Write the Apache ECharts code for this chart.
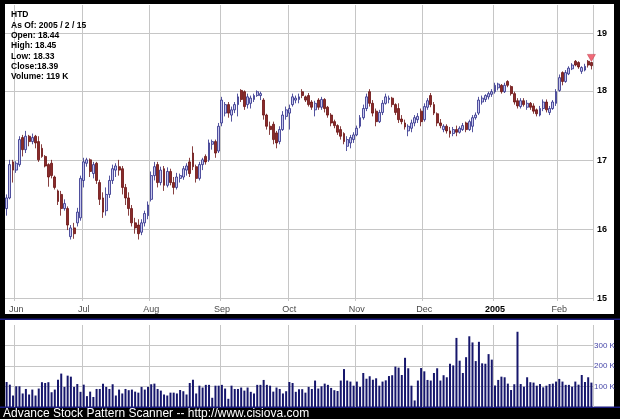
<!DOCTYPE html>
<html>
<head>
<meta charset="utf-8">
<script src="https://cdn.jsdelivr.net/npm/echarts@6/dist/echarts.min.js"></script>
<style>html,body{margin:0;padding:0;background:#000;}#c{width:620px;height:419px;}</style>
</head>
<body>
<div id="c"></div>
<script>
// ---- data ----
const firstDay = '2004-05-26';
const lastDay = '2005-02-15';
const holidays = ['2004-05-31','2004-06-11','2004-07-05','2004-09-06','2004-11-25','2004-12-24','2005-01-17'];
const monthNames = ['Jan','Feb','Mar','Apr','May','Jun','Jul','Aug','Sep','Oct','Nov','Dec'];
const priceTicks = [15,16,17,18,19];
const volumeTicks = [100,200,300];
const infoLines = ['HTD','As Of: 2005 / 2 / 15','Open: 18.44','High: 18.45','Low: 18.33','Close:18.39','Volume: 119 K'];
const footer = 'Advance Stock Pattern Scanner -- http://www.cisiova.com';

const open = [
16.25,16.40,16.92,16.80,16.88,17.28,17.10,17.30,17.22,17.30,
17.22,17.12,17.00,16.88,16.90,16.70,16.50,16.45,16.25,16.25,
15.86,15.98,16.05,16.12,16.65,16.90,16.95,16.75,16.90,16.62,
16.40,16.22,16.45,16.65,16.80,16.85,16.82,16.55,16.40,16.25,
16.05,16.02,15.92,16.05,16.15,16.38,16.72,16.88,16.62,16.82,
16.58,16.78,16.62,16.55,16.68,16.70,16.80,16.92,17.05,16.85,
16.68,16.88,17.00,16.95,17.18,17.22,17.08,17.50,17.65,17.78,
17.62,17.70,17.78,18.00,17.98,17.78,17.80,17.86,17.92,17.92,
17.85,17.62,17.45,17.48,17.35,17.22,17.40,17.60,17.65,17.78,
17.85,17.86,17.98,17.90,17.92,17.82,17.70,17.85,17.74,17.86,
17.74,17.62,17.52,17.46,17.40,17.34,17.15,17.20,17.25,17.32,
17.45,17.58,17.72,17.98,17.80,17.68,17.52,17.66,17.80,17.86,
17.88,17.78,17.72,17.56,17.50,17.38,17.42,17.50,17.55,17.68,
17.55,17.74,17.92,17.78,17.64,17.50,17.40,17.45,17.38,17.34,
17.40,17.36,17.40,17.50,17.40,17.45,17.58,17.65,17.82,17.86,
17.90,17.94,17.98,18.04,18.08,17.98,18.14,18.06,17.95,17.84,
17.75,17.84,17.74,17.80,17.76,17.70,17.62,17.72,17.82,17.66,
17.72,17.80,18.00,18.28,18.14,18.26,18.34,18.46,18.44,18.30,
18.32,18.46,18.44];
const high = [
16.45,16.95,16.95,16.93,17.30,17.32,17.38,17.32,17.34,17.32,
17.30,17.18,17.02,16.90,16.95,16.72,16.52,16.50,16.38,16.28,
16.02,16.05,16.26,16.72,16.98,16.98,16.97,16.92,16.92,16.66,
16.48,16.55,16.72,16.88,16.90,16.95,16.86,16.60,16.48,16.30,
16.12,16.10,16.10,16.22,16.35,16.78,16.92,16.92,16.85,16.86,
16.84,16.82,16.70,16.76,16.75,16.86,16.90,16.98,17.15,16.88,
16.92,16.98,17.03,17.25,17.25,17.25,17.50,17.90,17.82,17.82,
17.75,17.82,17.95,18.02,18.00,17.95,17.92,17.95,18.00,17.98,
17.88,17.64,17.52,17.52,17.38,17.45,17.68,17.75,17.78,17.95,
17.92,17.95,18.02,17.92,17.96,17.85,17.84,17.88,17.90,17.88,
17.76,17.65,17.55,17.48,17.45,17.36,17.30,17.32,17.36,17.46,
17.62,17.78,17.95,18.02,17.85,17.72,17.70,17.85,17.95,17.92,
17.90,17.80,17.80,17.62,17.55,17.48,17.55,17.62,17.65,17.72,
17.80,17.88,17.96,17.82,17.66,17.56,17.48,17.48,17.44,17.44,
17.46,17.45,17.50,17.52,17.55,17.62,17.66,17.90,17.92,17.94,
17.98,18.02,18.12,18.12,18.10,18.12,18.16,18.08,17.98,17.88,
17.88,17.88,17.85,17.82,17.80,17.72,17.76,17.86,17.86,17.76,
17.85,18.02,18.25,18.30,18.32,18.38,18.43,18.48,18.46,18.38,
18.42,18.48,18.45];
const low = [
16.15,16.38,16.62,16.76,16.85,17.00,17.05,17.15,17.18,17.12,
16.92,16.98,16.84,16.56,16.68,16.52,16.30,16.15,16.22,15.95,
15.82,15.83,16.00,16.08,16.55,16.85,16.70,16.68,16.60,16.30,
16.12,16.15,16.40,16.60,16.70,16.72,16.45,16.30,16.15,16.00,
15.90,15.82,15.88,16.00,16.10,16.35,16.65,16.55,16.58,16.50,
16.55,16.58,16.45,16.52,16.62,16.66,16.72,16.70,16.80,16.62,
16.65,16.80,16.88,16.92,17.10,16.98,17.05,17.45,17.60,17.58,
17.52,17.65,17.60,17.82,17.70,17.72,17.72,17.82,17.90,17.85,
17.55,17.40,17.32,17.18,17.12,17.18,17.38,17.55,17.40,17.75,
17.80,17.80,17.88,17.82,17.75,17.70,17.60,17.70,17.70,17.66,
17.58,17.45,17.42,17.32,17.25,17.18,17.08,17.12,17.20,17.30,
17.42,17.55,17.68,17.75,17.60,17.45,17.50,17.62,17.78,17.80,
17.74,17.62,17.50,17.48,17.40,17.30,17.36,17.45,17.50,17.45,
17.52,17.70,17.74,17.62,17.45,17.42,17.36,17.34,17.28,17.30,
17.30,17.34,17.38,17.36,17.38,17.36,17.55,17.62,17.78,17.82,
17.86,17.90,17.95,18.00,17.95,17.96,18.05,17.92,17.78,17.72,
17.72,17.75,17.70,17.70,17.64,17.60,17.60,17.68,17.66,17.62,
17.70,17.76,17.98,18.08,18.12,18.24,18.32,18.38,18.34,18.26,
18.30,18.36,18.33];
const close = [
16.40,16.88,16.80,16.90,17.25,17.10,17.30,17.22,17.28,17.20,
16.95,17.00,16.86,16.70,16.72,16.55,16.35,16.25,16.32,16.02,
15.98,15.90,16.20,16.68,16.92,16.95,16.78,16.88,16.65,16.38,
16.20,16.45,16.65,16.82,16.86,16.80,16.55,16.40,16.25,16.05,
15.98,15.90,16.05,16.18,16.30,16.72,16.85,16.62,16.80,16.58,
16.78,16.62,16.55,16.70,16.72,16.82,16.86,16.75,16.85,16.68,
16.88,16.95,16.92,17.20,17.22,17.05,17.45,17.85,17.78,17.65,
17.70,17.78,17.90,17.86,17.75,17.90,17.88,17.92,17.98,17.95,
17.62,17.45,17.40,17.25,17.20,17.40,17.62,17.70,17.72,17.90,
17.88,17.90,17.92,17.85,17.78,17.74,17.80,17.74,17.86,17.72,
17.62,17.50,17.46,17.36,17.30,17.22,17.25,17.28,17.32,17.42,
17.58,17.72,17.90,17.80,17.65,17.52,17.66,17.80,17.90,17.88,
17.78,17.66,17.55,17.52,17.44,17.45,17.50,17.58,17.60,17.52,
17.75,17.84,17.78,17.65,17.50,17.46,17.45,17.38,17.34,17.40,
17.36,17.42,17.46,17.40,17.52,17.58,17.62,17.85,17.88,17.92,
17.95,17.98,18.08,18.10,17.98,18.08,18.08,17.95,17.82,17.76,
17.84,17.78,17.80,17.74,17.68,17.64,17.72,17.82,17.70,17.72,
17.82,17.98,18.20,18.14,18.28,18.35,18.40,18.40,18.37,18.36,
18.38,18.40,18.39];
// volume in thousands
const volume = [
122,109,56,101,101,66,88,61,85,56,
90,121,117,121,72,85,133,163,98,153,
148,98,112,74,109,53,75,49,88,88,
114,98,88,111,56,85,66,88,82,85,
75,70,98,85,98,111,114,88,80,61,
56,70,70,66,83,77,61,117,133,66,
104,95,108,108,45,104,104,108,90,40,
104,88,88,95,80,95,74,66,108,108,
132,108,104,75,95,88,66,77,122,117,
74,87,87,70,98,
88,129,90,101,114,108,93,82,78,129,
185,129,124,104,124,98,166,138,150,133,
140,104,124,130,151,155,197,192,156,240,
189,104,32,129,190,174,132,129,166,189,
129,155,145,211,203,337,226,166,243,345,
315,224,318,213,211,258,231,105,132,148,
145,114,83,111,367,112,99,145,121,119,
104,112,96,104,112,114,124,137,124,108,
108,99,124,109,156,122,145,119];

// ---- trading calendar ----
function pad(n){return n<10?'0'+n:''+n;}
const dates = [];
{
  let d = new Date(firstDay + 'T00:00:00Z');
  const end = new Date(lastDay + 'T00:00:00Z');
  while (d <= end) {
    const wd = d.getUTCDay();
    const s = d.getUTCFullYear() + '-' + pad(d.getUTCMonth()+1) + '-' + pad(d.getUTCDate());
    if (wd !== 0 && wd !== 6 && holidays.indexOf(s) < 0) dates.push(s);
    d = new Date(d.getTime() + 86400000);
  }
}
const monthStart = {};
for (let i = 0; i < dates.length; i++) {
  if (i > 0 && dates[i].slice(0,7) !== dates[i-1].slice(0,7)) monthStart[dates[i]] = true;
}
function isMonthStart(idx, val){ return !!monthStart[val]; }

const LN = Math.log;
const candleData = dates.map((d,i) => [LN(open[i]), LN(close[i]), LN(low[i]), LN(high[i])]);
const last = dates.length - 1;

const chart = echarts.init(document.getElementById('c'), null, {renderer:'canvas'});
const FONT = 'Arial, "Liberation Sans", sans-serif';
const gridColor = '#c6c6c6';

const option = {
  animation: false,
  backgroundColor: '#000000',
  graphic: [
    {type:'rect', z:-10, shape:{x:5,y:4,width:609,height:310}, style:{fill:'#ffffff'}},
    {type:'rect', z:-10, shape:{x:5,y:320,width:609,height:87}, style:{fill:'#ffffff'}},
    {type:'rect', z:-9, shape:{x:0,y:318.5,width:620,height:1.5}, style:{fill:'#1c1c80'}},
    {type:'rect', z:-9, shape:{x:0,y:406.5,width:620,height:1.5}, style:{fill:'#1c1c80'}},
    {type:'text', zlevel:2, style:{text: infoLines.join('\n'), x:11, y:9.8, fill:'#000', font:'bold 8.5px ' + FONT, lineHeight:10.35, verticalAlign:'top'}},
    {type:'text', zlevel:2, style:{text: footer, x:3, y:413.5, fill:'#fff', font:'12px ' + FONT, verticalAlign:'middle'}}
  ],
  grid: [
    {left:5, top:5, width:588, height:296},
    {left:5, top:325, width:588, height:82}
  ],
  xAxis: [
    {type:'category', gridIndex:0, data:dates, boundaryGap:true,
     axisLine:{show:false}, axisTick:{show:false},
     axisLabel:{interval:isMonthStart, margin:4, fontSize:9, color:'#4a4a4a', fontFamily:FONT,
       formatter:function(v){ const m = +v.slice(5,7); if (m===1) return '{b|' + v.slice(0,4) + '}'; return monthNames[m-1]; },
       rich:{b:{fontWeight:'bold', color:'#000', fontSize:9, fontFamily:FONT}}},
     splitLine:{show:true, interval:isMonthStart, lineStyle:{color:gridColor, width:1}}},
    {type:'category', gridIndex:1, data:dates, boundaryGap:true,
     axisLine:{show:false}, axisTick:{show:false}, axisLabel:{show:false},
     splitLine:{show:true, interval:isMonthStart, lineStyle:{color:gridColor, width:1}}}
  ],
  yAxis: [
    {type:'value', gridIndex:0, min:LN(15), max:LN(15)+0.25628, show:true,
     axisLine:{show:false}, axisTick:{show:false}, axisLabel:{show:false}, splitLine:{show:false}},
    {type:'value', gridIndex:1, min:0, max:400, show:true,
     axisLine:{show:false}, axisTick:{show:false}, axisLabel:{show:false}, splitLine:{show:false}}
  ],
  series: [
    {type:'line', xAxisIndex:0, yAxisIndex:0, data:dates.map(()=>null), silent:true, symbol:'none',
     markLine:{silent:true, symbol:'none', animation:false,
       lineStyle:{color:gridColor, width:1, type:'solid'},
       label:{show:true, position:'end', distance:4, formatter:p=>p.name, color:'#000', fontWeight:'bold', fontSize:9, fontFamily:FONT},
       data: priceTicks.map(p => ({yAxis: LN(p), name: String(p)}))}},
    {type:'line', xAxisIndex:1, yAxisIndex:1, data:dates.map(()=>null), silent:true, symbol:'none',
     markLine:{silent:true, symbol:'none', animation:false,
       lineStyle:{color:gridColor, width:1, type:'solid'},
       label:{show:true, position:'end', distance:1, formatter:p=>p.name, color:'#4646a8', fontSize:8, fontFamily:FONT, padding:[0,0,6,0]},
       data: volumeTicks.map(v => ({yAxis: v, name: v + ' K'}))}},
    {type:'candlestick', zlevel:1, xAxisIndex:0, yAxisIndex:0, data:candleData, barWidth:2.4,
     itemStyle:{color:'#c8c8ee', color0:'#8a2a2a', borderColor:'#2a2a86', borderColor0:'#6a1010', borderWidth:0.8},
     markPoint:{animation:false, label:{show:false},
       data:[{coord:[dates[last], LN(high[last])], symbol:'triangle', symbolRotate:180, symbolSize:[8,7], symbolOffset:[0,-4],
              itemStyle:{color:'#f06a78', borderColor:'#c03848', borderWidth:0.5}}]}},
    {type:'bar', zlevel:1, xAxisIndex:1, yAxisIndex:1, data:volume, barWidth:2,
     itemStyle:{color:'#16166c'}}
  ]
};
chart.setOption(option);
</script>
</body>
</html>
